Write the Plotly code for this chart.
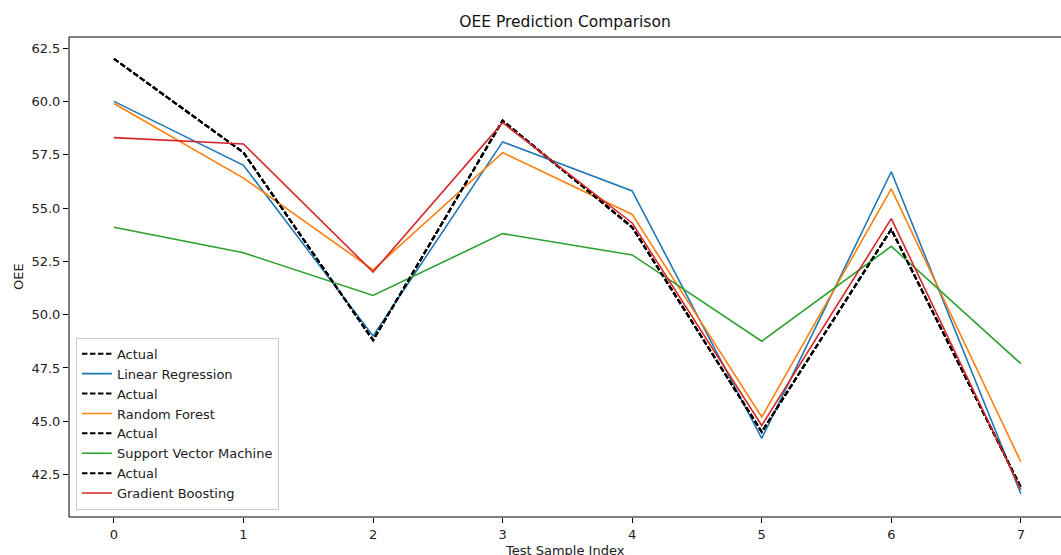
import plotly.graph_objects as go

x_idx = [0, 1, 2, 3, 4, 5, 6, 7]
actual = [62.0, 57.6, 48.8, 59.1, 54.1, 44.5, 54.0, 41.9]
linear_regression = [60.0, 57.0, 49.0, 58.1, 55.8, 44.2, 56.7, 41.6]
random_forest = [59.9, 56.4, 52.1, 57.6, 54.7, 45.2, 55.9, 43.1]
svm = [54.1, 52.9, 50.9, 53.8, 52.8, 48.75, 53.2, 47.7]
gradient_boosting = [58.3, 58.0, 52.0, 59.0, 54.3, 44.8, 54.5, 41.8]

models = [
    ("Linear Regression", linear_regression, "#1f77b4"),
    ("Random Forest", random_forest, "#ff7f0e"),
    ("Support Vector Machine", svm, "#2ca02c"),
    ("Gradient Boosting", gradient_boosting, "#d62728"),
]

fig = go.Figure()
for name, vals, color in models:
    fig.add_trace(go.Scatter(x=x_idx, y=actual, mode="lines", name="Actual",
                             line=dict(color="black", width=2, dash="5.5px,2.5px")))
    fig.add_trace(go.Scatter(x=x_idx, y=vals, mode="lines", name=name,
                             line=dict(color=color, width=1.6)))

font = "DejaVu Sans, Verdana, sans-serif"
fig.update_layout(
    width=1061, height=555,
    margin=dict(l=69, r=0, t=37, b=38),
    paper_bgcolor="white", plot_bgcolor="white",
    font=dict(family=font, size=13, color="#222"),
    title=dict(text="OEE Prediction Comparison", x=0.5, xref="paper",
               y=1 - 22 / 555, yref="container", yanchor="middle",
               xanchor="center", font=dict(size=15.5, color="#111")),
    showlegend=True,
    legend=dict(x=0.007, y=0.015, xanchor="left", yanchor="bottom",
                bgcolor="rgba(255,255,255,0.8)", bordercolor="#cccccc",
                borderwidth=1, font=dict(size=13, color="#222"),
                traceorder="normal"),
    xaxis=dict(range=[-0.347, 7.31], tickvals=x_idx, showgrid=False,
               zeroline=False, showline=False, ticks="outside", ticklen=5,
               tickcolor="black", tickwidth=1),
    yaxis=dict(range=[40.51, 63.02], tick0=0, dtick=2.5, tickformat=".1f",
               showgrid=False, zeroline=False, showline=False,
               ticks="outside", ticklen=5, tickcolor="black", tickwidth=1),
    shapes=[dict(type="rect", xref="paper", yref="paper", x0=0, x1=1.05,
                 y0=0, y1=1, line=dict(color="black", width=1),
                 fillcolor="rgba(0,0,0,0)", layer="above")],
    annotations=[
        dict(text="Test Sample Index", xref="paper", yref="paper", x=0.5, y=0,
             xanchor="center", yanchor="top", yshift=-24, showarrow=False,
             font=dict(size=13, color="#222")),
        dict(text="OEE", xref="paper", yref="paper", x=(18 - 69) / 992, y=0.5,
             xanchor="center", yanchor="middle", textangle=-90, showarrow=False,
             font=dict(size=13, color="#222")),
    ],
)

fig.write_html("out.html",
               config={"displayModeBar": False},
               post_script="document.body.style.margin='0';document.body.style.padding='0';document.body.style.overflow='hidden';")
